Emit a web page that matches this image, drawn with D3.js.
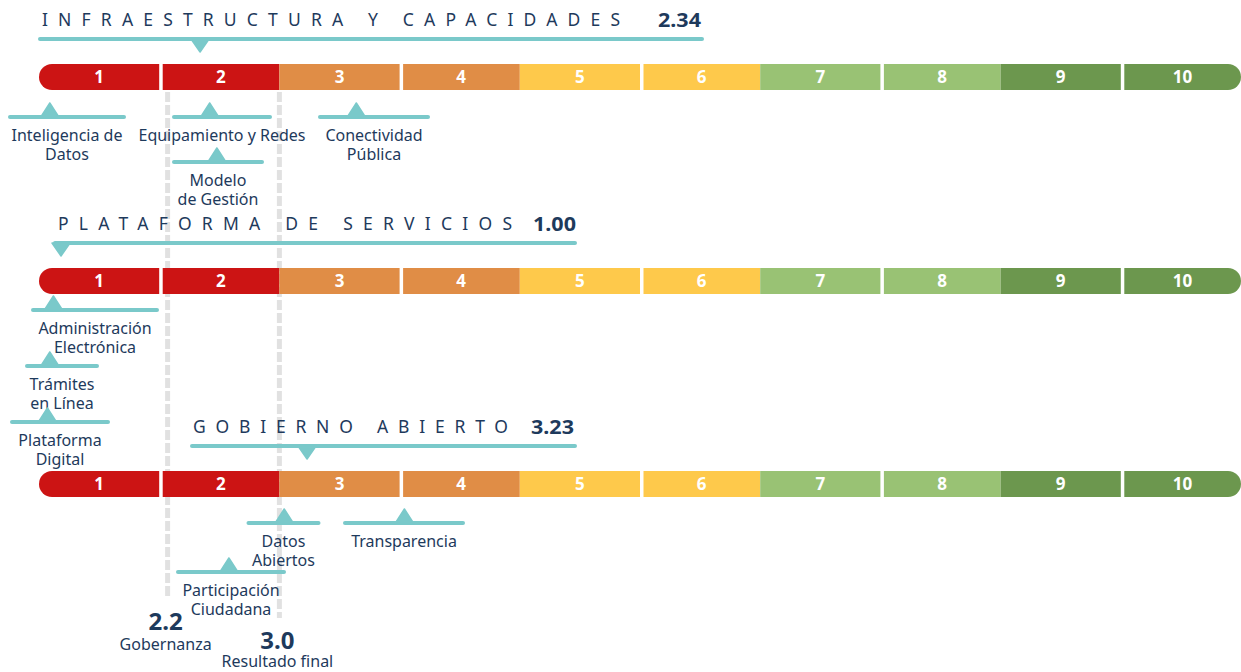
<!DOCTYPE html>
<html>
<head>
<meta charset="utf-8">
<script src="https://cdn.jsdelivr.net/npm/d3@7"></script>
<style>
  html, body { margin: 0; padding: 0; background: #ffffff; }
  svg { display: block; }
  text { font-family: "Noto Sans", "Open Sans", sans-serif; }
</style>
</head>
<body>
<div id="chart"></div>
<script>
// ---------------- DATA ----------------
const levels = [1, 2, 3, 4, 5, 6, 7, 8, 9, 10];
const levelColors = ["#cc1414", "#cc1414", "#e08d46", "#e08d46", "#fec94b", "#fec94b",
                     "#99c274", "#99c274", "#6c974e", "#6c974e"];

const dimensionNames = ["INFRAESTRUCTURA Y CAPACIDADES", "PLATAFORMA DE SERVICIOS", "GOBIERNO ABIERTO"];
const dimensionScores = [2.34, 1.00, 3.23];

const indicatorNames = ["Inteligencia de\nDatos", "Equipamiento y Redes", "Modelo\nde Gestión", "Conectividad\nPública",
                        "Administración\nElectrónica", "Trámites\nen Línea", "Plataforma\nDigital",
                        "Datos\nAbiertos", "Transparencia", "Participación\nCiudadana"];
const indicatorDimension = [0, 0, 0, 0, 1, 1, 1, 2, 2, 2];
const indicatorValues = [1.09, 2.42, 2.48, 3.64, 1.12, 1.09, 1.07, 3.04, 4.04, 2.58];

const summaryNames = ["Gobernanza", "Resultado final"];
const summaryLabels = ["2.2", "3.0"];
const summaryPositions = [2.07, 3.0];   // where the dashed guides sit on the scale

// ---------------- LAYOUT ----------------
const W = 1241, H = 672;
const barTop = [64, 268, 471];
const barH = 26;
const titleLayout = [
  { x: 42, len: 578, scoreX: 658, lineX0: 40, lineX1: 702 },
  { x: 58, len: 454, scoreX: 533, lineX0: 55, lineX1: 575 },
  { x: 193, len: 315, scoreX: 531, lineX0: 192, lineX1: 575 }
];
// per indicator: line offset below bar bottom, label centre, half width of underline
const indLayout = [
  { dy: 27, cx: 67, hw: 57 },
  { dy: 27, cx: 222, hw: 48 },
  { dy: 72, cx: 218, hw: 44 },
  { dy: 27, cx: 374, hw: 54 },
  { dy: 16, cx: 95, hw: 62 },
  { dy: 72, cx: 62, hw: 35 },
  { dy: 128, cx: 60, hw: 48 },
  { dy: 26, cx: 283.5, hw: 35 },
  { dy: 26, cx: 404, hw: 59 },
  { dy: 75, cx: 231, hw: 53 }
];
const summaryLayout = [
  { y0: 92, y1: 598, scoreY: 630, nameY: 650 },
  { y0: 92, y1: 618, scoreY: 649, nameY: 667 }
];

const navy = "#1e3a5c";
const teal = "#7ac9ca";

const x = d3.scaleLinear().domain([1, 11]).range([39, 1241]);

const svg = d3.select("#chart").append("svg")
  .attr("width", W).attr("height", H);

// dashed guides (behind)
const guides = svg.append("g");
summaryPositions.forEach((p, i) => {
  guides.append("line")
    .attr("x1", x(p)).attr("x2", x(p))
    .attr("y1", summaryLayout[i].y0).attr("y2", summaryLayout[i].y1)
    .attr("stroke", "#e1e1e1").attr("stroke-width", 5)
    .attr("stroke-dasharray", "10 3");
});

// bars
dimensionNames.forEach((name, r) => {
  const g = svg.append("g");
  const clipId = "clip" + r;
  svg.append("clipPath").attr("id", clipId)
    .append("rect")
    .attr("x", x(1)).attr("y", barTop[r])
    .attr("width", x(11) - x(1)).attr("height", barH)
    .attr("rx", barH / 2).attr("ry", barH / 2);
  const bars = g.append("g").attr("clip-path", `url(#${clipId})`);
  bars.selectAll("rect").data(levels).join("rect")
    .attr("x", d => x(d) + (d % 2 === 0 ? 3.5 : 0))
    .attr("y", barTop[r])
    .attr("width", d => x(d + 1) - x(d) - (d % 2 === 0 ? 3.5 : 0))
    .attr("height", barH)
    .attr("fill", (d, i) => levelColors[i]);
  g.selectAll("text.lvl").data(levels).join("text")
    .attr("class", "lvl")
    .attr("x", d => (x(d) + x(d + 1)) / 2 + (d % 2 === 0 ? 1.5 : 0))
    .attr("y", barTop[r] + barH / 2 + 6)
    .attr("text-anchor", "middle")
    .attr("fill", "#ffffff")
    .attr("font-size", 17).attr("font-weight", 700)
    .text(d => d);

  // title
  const tl = titleLayout[r];
  g.append("text")
    .attr("x", tl.x).attr("y", barTop[r] - 38)
    .attr("fill", navy).attr("font-size", 17.5)
    .attr("textLength", tl.len).attr("lengthAdjust", "spacing")
    .text(name);
  g.append("text")
    .attr("x", tl.scoreX).attr("y", barTop[r] - 37)
    .attr("fill", navy).attr("font-size", 20).attr("font-weight", 700)
    .attr("textLength", 43).attr("lengthAdjust", "spacingAndGlyphs")
    .text(dimensionScores[r].toFixed(2));
  const ly = barTop[r] - 25;
  g.append("line")
    .attr("x1", tl.lineX0).attr("x2", tl.lineX1)
    .attr("y1", ly).attr("y2", ly)
    .attr("stroke", teal).attr("stroke-width", 4).attr("stroke-linecap", "round");
  const tx = Math.max(x(dimensionScores[r]), tl.lineX0 + 6);
  g.append("path")
    .attr("d", `M${tx - 9},${ly} L${tx + 9},${ly} L${tx},${ly + 13} Z`)
    .attr("fill", teal).attr("stroke", teal).attr("stroke-width", 1.5).attr("stroke-linejoin", "round");
});

// indicators
indicatorNames.forEach((name, i) => {
  const r = indicatorDimension[i];
  const L = indLayout[i];
  const ly = barTop[r] + barH + L.dy;
  const g = svg.append("g");
  g.append("line")
    .attr("x1", L.cx - L.hw).attr("x2", L.cx + L.hw)
    .attr("y1", ly).attr("y2", ly)
    .attr("stroke", teal).attr("stroke-width", 4).attr("stroke-linecap", "round");
  const tx = x(indicatorValues[i]);
  g.append("path")
    .attr("d", `M${tx - 9},${ly} L${tx + 9},${ly} L${tx},${ly - 14} Z`)
    .attr("fill", teal).attr("stroke", teal).attr("stroke-width", 1.5).attr("stroke-linejoin", "round");
  const lines = name.split("\n");
  lines.forEach((ln, k) => {
    g.append("text")
      .attr("text-anchor", "middle").attr("fill", navy).attr("font-size", 16)
      .attr("x", L.cx).attr("y", ly + 24 + k * 19).text(ln);
  });
});

// summary
summaryPositions.forEach((p, i) => {
  const S = summaryLayout[i];
  svg.append("text")
    .attr("x", x(p) - 2).attr("y", S.scoreY)
    .attr("text-anchor", "middle").attr("fill", navy)
    .attr("font-size", 24).attr("font-weight", 700)
    .text(summaryLabels[i]);
  svg.append("text")
    .attr("x", x(p) - 2).attr("y", S.nameY)
    .attr("text-anchor", "middle").attr("fill", navy)
    .attr("font-size", 16)
    .text(summaryNames[i]);
});
</script>
</body>
</html>
